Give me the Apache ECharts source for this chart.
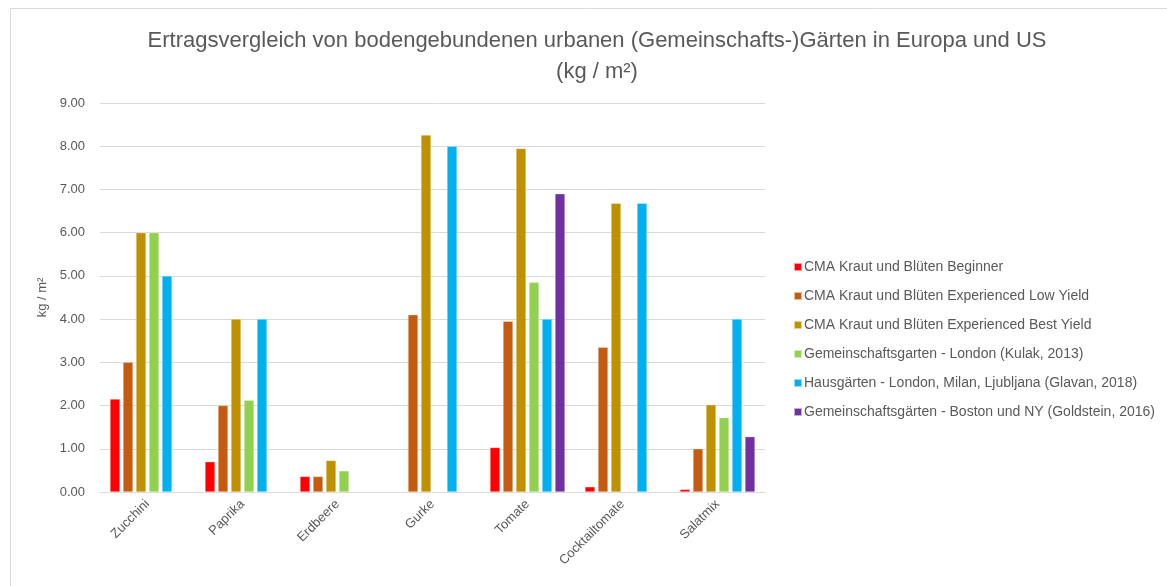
<!DOCTYPE html>
<html>
<head>
<meta charset="utf-8">
<script src="https://cdn.jsdelivr.net/npm/echarts@6/dist/echarts.min.js"></script>
<style>
  html, body { margin: 0; padding: 0; background: #fff; }
  #bar-charts { width: 1167px; height: 586px; }
</style>
</head>
<body>
<div id="bar-charts"></div>
<script>
// Kategorien und Werte (kg / m²)
var categories = ["Zucchini", "Paprika", "Erdbeere", "Gurke", "Tomate", "Cocktailtomate", "Salatmix"];
var seriesNames = [
  "CMA Kraut und Blüten Beginner",
  "CMA Kraut und Blüten Experienced Low Yield",
  "CMA Kraut und Blüten Experienced Best Yield",
  "Gemeinschaftsgarten - London (Kulak, 2013)",
  "Hausgärten - London, Milan, Ljubljana (Glavan, 2018)",
  "Gemeinschaftsgärten - Boston und NY (Goldstein, 2016)"
];
var beginner     = [2.15, 0.70, 0.36, null, 1.03, 0.12, 0.06];
var lowYield     = [3.00, 2.00, 0.36, 4.10, 3.95, 3.35, 1.00];
var bestYield    = [6.00, 4.00, 0.73, 8.26, 7.95, 6.68, 2.02];
var london       = [6.00, 2.12, 0.49, null, 4.85, null, 1.72];
var hausgaerten  = [5.00, 4.00, null, 8.00, 4.00, 6.68, 4.00];
var bostonNY     = [null, null, null, null, 6.90, null, 1.28];
var yTicks = [0, 1, 2, 3, 4, 5, 6, 7, 8, 9];

var colors = ["#FF0000", "#C55A11", "#BF9000", "#92D050", "#00B0F0", "#7030A0"];
var allData = [beginner, lowYield, bestYield, london, hausgaerten, bostonNY];
var textColor = "#595959";
var font = "'Liberation Sans', sans-serif";

var myCharts = echarts.init(document.getElementById("bar-charts"));

var series = [];
allData.forEach(function (item, index) {
  series.push({
    name: seriesNames[index],
    type: "bar",
    data: item,
    barWidth: 10,
    barGap: "30%",
    itemStyle: { color: colors[index], borderColor: "rgba(255,255,255,0.6)", borderWidth: 0.5 }
  });
});

myCharts.setOption({
  animation: false,
  textStyle: { fontFamily: font },
  title: {
    text: "Ertragsvergleich von bodengebundenen urbanen (Gemeinschafts-)Gärten in Europa und US\n(kg / m²)",
    left: 592,
    top: 20,
    textAlign: "center",
    textStyle: { fontFamily: font, fontSize: 22, fontWeight: "normal", color: textColor, lineHeight: 31 }
  },
  legend: {
    orient: "vertical",
    left: 788,
    top: 254,
    itemWidth: 8,
    itemHeight: 8,
    itemGap: 13,
    icon: "rect",
    data: seriesNames,
    textStyle: { fontFamily: font, fontSize: 14, color: textColor, padding: [0, 0, 0, -3], lineHeight: 16 }
  },
  graphic: [{
    type: "rect",
    shape: { x: 10.5, y: 8.5, width: 1170, height: 600 },
    style: { fill: "none", stroke: "#D9D9D9", lineWidth: 1 },
    silent: true
  }],
  grid: { left: 100, right: 402, top: 103, bottom: 94 },
  xAxis: {
    type: "category",
    data: categories,
    axisLine: { lineStyle: { color: "#D9D9D9" } },
    axisTick: { show: false },
    axisLabel: { rotate: 45, color: textColor, fontSize: 13, margin: 10, fontFamily: font }
  },
  yAxis: {
    type: "value",
    min: yTicks[0],
    max: yTicks[yTicks.length - 1],
    interval: 1,
    name: "kg / m²",
    nameLocation: "middle",
    nameGap: 48,
    nameRotate: 90,
    nameTextStyle: { color: textColor, fontSize: 13, fontFamily: font },
    axisLine: { show: false },
    axisTick: { show: false },
    axisLabel: {
      color: textColor, fontSize: 13, margin: 15, fontFamily: font,
      formatter: function (v) { return v.toFixed(2); }
    },
    splitLine: { lineStyle: { color: "#D9D9D9" } }
  },
  series: series
});
</script>
</body>
</html>
